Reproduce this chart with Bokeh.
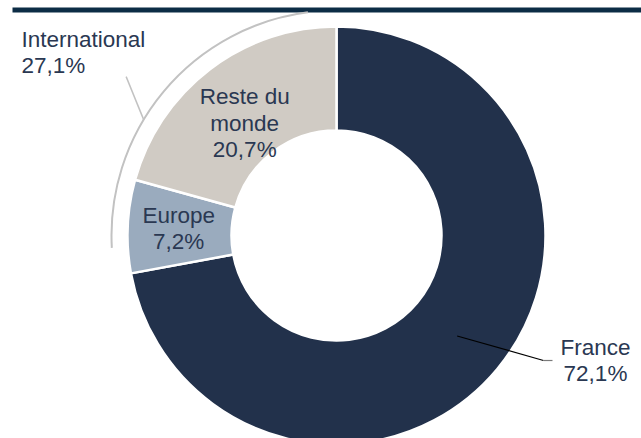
import numpy as np
from bokeh.plotting import figure
from bokeh.models import Range1d, ColumnDataSource
from bokeh.core.properties import value
from bokeh.embed import file_html
from bokeh.resources import INLINE

# ---- data ----
categories = ["France", "Europe", "Reste du monde"]
shares = [72.1, 7.2, 20.7]
slice_labels = ["France\n72,1%", "Europe\n7,2%", "Reste du\nmonde\n20,7%"]
group_name = "International"
group_members = ["Europe", "Reste du monde"]
group_share = 27.1
group_label = "International\n27,1%"

# ---- style ----
palette = ["#22314b", "#9aabbe", "#d0cbc4"]
text_color = "#2a3852"
FONT = "Liberation Sans"
FS = "22.5px"
LH = 1.07
R_IN, R_OUT = 105, 209
R_MID = (106 + 208) / 2
R_ARC = 225
ARC_INSET = np.deg2rad(7.3)

W, H = 641, 438
p = figure(width=W, height=H, x_range=Range1d(-336, 305), y_range=Range1d(-203, 235),
           output_backend="svg", toolbar_location=None, min_border=0,
           x_axis_type=None, y_axis_type=None)
p.outline_line_color = None
p.grid.visible = False
p.background_fill_color = "white"
p.border_fill_color = "white"

# top rule
p.quad(left=[-324], right=[305], top=[228], bottom=[223], fill_color="#0c2c45", line_color=None)

# angles: start at 12 o'clock, clockwise
fr = np.array(shares) / 100.0
cum = np.concatenate([[0], np.cumsum(fr)])
a_start = np.pi / 2 - 2 * np.pi * cum[:-1]   # clockwise start
a_end = np.pi / 2 - 2 * np.pi * cum[1:]
mid = (a_start + a_end) / 2

src = ColumnDataSource(dict(start=a_end, end=a_start, color=palette, cat=categories))
p.annular_wedge(x=0, y=0, inner_radius=R_IN, outer_radius=R_OUT,
                start_angle="start", end_angle="end", direction="anticlock",
                fill_color="color", line_color="white", line_width=2.5, source=src)

# slice labels (inside)
idx_eu = categories.index("Europe")
idx_rm = categories.index("Reste du monde")
idx_fr = categories.index("France")
lab_r = {idx_eu: 158, idx_rm: 145}
lab_da = {idx_eu: 0.0, idx_rm: np.deg2rad(2.0)}
lx, ly, lt = [], [], []
for i in (idx_eu, idx_rm):
    ang = mid[i] + lab_da[i]
    lx.append(lab_r[i] * np.cos(ang))
    ly.append(lab_r[i] * np.sin(ang))
    lt.append(slice_labels[i])
p.text(x=lx, y=ly, text=lt, text_align="center", text_baseline="middle",
       text_font=value(FONT), text_font_size=FS, text_color=text_color, text_line_height=LH)

# France label with leader
fx0 = R_MID * np.cos(mid[idx_fr])
fy0 = R_MID * np.sin(mid[idx_fr])
flab_x, flab_y = 259, -125
p.line(x=[fx0, flab_x - 52], y=[fy0, flab_y], line_color="black", line_width=1.2)
p.line(x=[flab_x - 52, flab_x - 43], y=[flab_y, flab_y], line_color="#7a7a7a", line_width=1.2)
p.text(x=[flab_x], y=[flab_y], text=[slice_labels[idx_fr]], text_align="center", text_baseline="middle",
       text_font=value(FONT), text_font_size=FS, text_color=text_color, text_line_height=LH)

# International grouping arc (spans Europe + Reste du monde)
g_lo = a_start[categories.index(group_members[0])]   # France/Europe boundary
p.arc(x=0, y=0, radius=R_ARC, start_angle=np.pi / 2 + ARC_INSET,
      end_angle=g_lo + 2 * np.pi - ARC_INSET, direction="anticlock",
      line_color="#c2c2c2", line_width=2)

lead_ang = np.deg2rad(149)
ix0 = R_ARC * np.cos(lead_ang)
iy0 = R_ARC * np.sin(lead_ang)
ix1, iy1 = ix0 - 17.5, iy0 + 43
p.line(x=[ix0, ix1], y=[iy0, iy1], line_color="#c2c2c2", line_width=1.5)
p.text(x=[-315], y=[183], text=[group_label], text_align="left", text_baseline="middle",
       text_font=value(FONT), text_font_size=FS, text_color=text_color, text_line_height=LH)

open("out.html", "w").write(file_html(p, INLINE))
